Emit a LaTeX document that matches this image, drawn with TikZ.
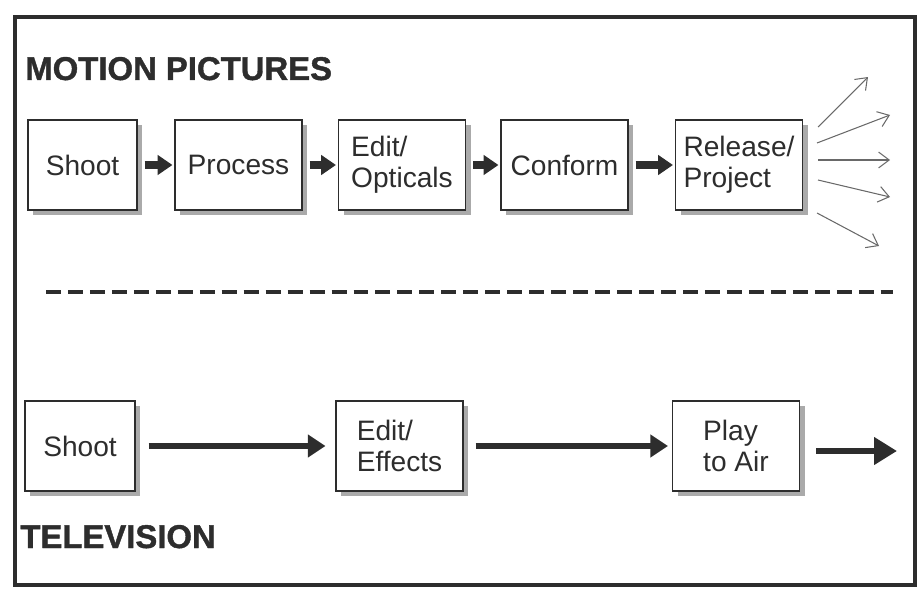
\documentclass[tikz,border=0pt]{standalone}
\usepackage{fontspec}
\setmainfont{Liberation Sans}
\newfontfamily\heavyfont[FakeBold=1.2]{Liberation Sans Bold}
\definecolor{ink}{RGB}{45,45,45}
\definecolor{shade}{RGB}{170,170,170}
\definecolor{thin}{RGB}{105,105,105}
\usetikzlibrary{calc,shadows,arrows.meta,positioning}

\begin{document}
\begin{tikzpicture}[x=1cm,y=1cm,
        every node/.style={font=\fontsize{16}{17.5}\selectfont, text=ink},
        stage/.style={draw=ink, fill=white, line width=0.6pt, minimum height=1.8cm,
            minimum width=2.54cm, align=left,
            drop shadow={shadow xshift=0.1cm, shadow yshift=-0.1cm, fill=shade, opacity=1}},
        heading/.style={font=\fontsize{18.7}{20}\heavyfont, anchor=base west, inner sep=0pt},
        fat/.style={draw=ink, line width=5pt, -{Triangle[length=8.5pt,width=11pt]},
            shorten <=0.14cm, shorten >=0.04cm},
        long/.style={draw=ink, line width=3pt, -{Triangle[length=10pt,width=12.5pt]}},
        fan/.style={draw=thin, line width=0.6pt, -{Straight Barb[length=6pt,width=9pt]}}]
        \useasboundingbox (0,0) rectangle (18.42,-11.78);
        \draw[draw=ink,line width=2.5pt] (0.3,-0.34) rectangle (18.3,-11.7);

        % motion pictures
        \node[heading] (mp) at (0.5,-1.6) {MOTION PICTURES};
        \node[stage,minimum width=2.18cm] (shoot1) at (1.65,-3.3) {Shoot};
        \node[stage] (process) at (4.77,-3.3) {Process};
        \node[stage] (edit1) at (8.04,-3.3) {Edit/\\Opticals};
        \node[stage] (conform) at (11.29,-3.3) {Conform};
        \node[stage] (release) at (14.78,-3.3) {Release/\\Project};
        \draw[fat] (shoot1) -- (process);
        \draw[fat] (process) -- (edit1);
        \draw[fat] (edit1) -- (conform);
        \draw[fat] (conform) -- (release);

        \coordinate (s1) at (16.36,-2.54); \coordinate (f1) at (17.36,-1.54);
        \coordinate (s2) at (16.34,-2.86); \coordinate (f2) at (17.8,-2.3);
        \coordinate (s3) at (16.36,-3.2);  \coordinate (f3) at (17.8,-3.2);
        \coordinate (s4) at (16.36,-3.6);  \coordinate (f4) at (17.8,-3.94);
        \coordinate (s5) at (16.34,-4.26); \coordinate (f5) at (17.58,-4.92);
        \foreach \i in {1,...,5}
            \draw[fan] (s\i) -- (f\i);

        \draw[draw=ink,line width=2.2pt,dash pattern=on 8.5pt off 4pt] (0.92,-5.84) -- (17.86,-5.84);

        % television
        \node[stage,minimum width=2.2cm] (shoot2) at (1.6,-8.92) {Shoot};
        \node[stage] (edit2) at (7.99,-8.92) {Edit/\\Effects};
        \node[stage] (play) at (14.72,-8.92) {Play\\to Air};
        \coordinate (air) at (17.94,-9.02);
        \draw[long,shorten <=0.26cm,shorten >=0.2cm] (shoot2) -- (edit2);
        \draw[long,shorten <=0.24cm,shorten >=0.08cm] (edit2) -- (play);
        \draw[long,line width=3.6pt,-{Triangle[length=13pt,width=15pt]},shorten <=0.32cm]
            (play.east |- air) -- (air);
        \node[heading] (tv) at (0.4,-10.96) {TELEVISION};
\end{tikzpicture}
\end{document}
